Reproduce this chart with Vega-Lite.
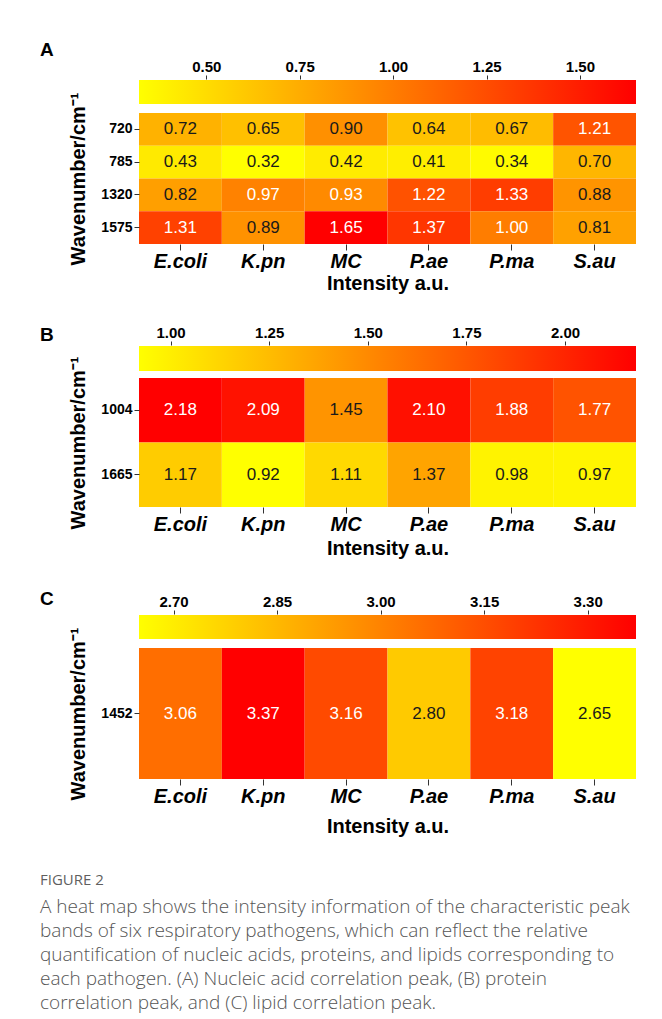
{
  "$schema": "https://vega.github.io/schema/vega-lite/v6.json",
  "background": "white",
  "padding": {"left": 40, "top": 41, "right": 4, "bottom": 0},
  "config": {
    "view": {"stroke": null},
    "font": "Liberation Sans",
    "axis": {"domain": false, "grid": false, "tickColor": "#333333", "labelColor": "#000000", "titleColor": "#000000", "labelFont": "Liberation Sans", "titleFont": "Liberation Sans"}
  },
  "datasets": {
    "A": [
      {"w": 720, "p": "E.coli", "v": 0.72}, {"w": 720, "p": "K.pn", "v": 0.65}, {"w": 720, "p": "MC", "v": 0.90}, {"w": 720, "p": "P.ae", "v": 0.64}, {"w": 720, "p": "P.ma", "v": 0.67}, {"w": 720, "p": "S.au", "v": 1.21},
      {"w": 785, "p": "E.coli", "v": 0.43}, {"w": 785, "p": "K.pn", "v": 0.32}, {"w": 785, "p": "MC", "v": 0.42}, {"w": 785, "p": "P.ae", "v": 0.41}, {"w": 785, "p": "P.ma", "v": 0.34}, {"w": 785, "p": "S.au", "v": 0.70},
      {"w": 1320, "p": "E.coli", "v": 0.82}, {"w": 1320, "p": "K.pn", "v": 0.97}, {"w": 1320, "p": "MC", "v": 0.93}, {"w": 1320, "p": "P.ae", "v": 1.22}, {"w": 1320, "p": "P.ma", "v": 1.33}, {"w": 1320, "p": "S.au", "v": 0.88},
      {"w": 1575, "p": "E.coli", "v": 1.31}, {"w": 1575, "p": "K.pn", "v": 0.89}, {"w": 1575, "p": "MC", "v": 1.65}, {"w": 1575, "p": "P.ae", "v": 1.37}, {"w": 1575, "p": "P.ma", "v": 1.00}, {"w": 1575, "p": "S.au", "v": 0.81}
    ],
    "B": [
      {"w": 1004, "p": "E.coli", "v": 2.18}, {"w": 1004, "p": "K.pn", "v": 2.09}, {"w": 1004, "p": "MC", "v": 1.45}, {"w": 1004, "p": "P.ae", "v": 2.10}, {"w": 1004, "p": "P.ma", "v": 1.88}, {"w": 1004, "p": "S.au", "v": 1.77},
      {"w": 1665, "p": "E.coli", "v": 1.17}, {"w": 1665, "p": "K.pn", "v": 0.92}, {"w": 1665, "p": "MC", "v": 1.11}, {"w": 1665, "p": "P.ae", "v": 1.37}, {"w": 1665, "p": "P.ma", "v": 0.98}, {"w": 1665, "p": "S.au", "v": 0.97}
    ],
    "C": [
      {"w": 1452, "p": "E.coli", "v": 3.06}, {"w": 1452, "p": "K.pn", "v": 3.37}, {"w": 1452, "p": "MC", "v": 3.16}, {"w": 1452, "p": "P.ae", "v": 2.80}, {"w": 1452, "p": "P.ma", "v": 3.18}, {"w": 1452, "p": "S.au", "v": 2.65}
    ]
  },
  "title": {
    "text": "FIGURE 2",
    "subtitle": [
      "A heat map shows the intensity information of the characteristic peak",
      "bands of six respiratory pathogens, which can reflect the relative",
      "quantification of nucleic acids, proteins, and lipids corresponding to",
      "each pathogen. (A) Nucleic acid correlation peak, (B) protein",
      "correlation peak, and (C) lipid correlation peak."
    ],
    "orient": "bottom",
    "anchor": "start",
    "frame": "bounds",
    "offset": 37,
    "font": "Open Sans",
    "fontSize": 15,
    "fontWeight": 500,
    "color": "#5f5f5f",
    "subtitleFont": "Open Sans",
    "subtitleFontSize": 19,
    "subtitleFontWeight": 300,
    "subtitleColor": "#555555",
    "subtitleLineHeight": 24,
    "subtitlePadding": 10
  },
  "spacing": 32,
  "resolve": {"scale": {"x": "independent", "y": "independent", "color": "independent"}},
  "vconcat": [
    {
      "bounds": "flush",
      "spacing": 9,
      "resolve": {"scale": {"x": "independent", "y": "independent", "color": "independent"}},
      "vconcat": [
        {
          "data": {"name": "A"},
          "width": 497,
          "height": 24,
          "title": {"text": "A", "anchor": "start", "frame": "group", "dx": -99, "offset": -1, "fontSize": 19, "fontWeight": "bold", "color": "#000000", "font": "Liberation Sans"},
          "mark": {"type": "rect", "fill": {"gradient": "linear", "stops": [{"offset": 0, "color": "#ffff00"}, {"offset": 1, "color": "#ff0000"}]}},
          "encoding": {
            "x": {"aggregate": "min", "field": "v", "type": "quantitative", "scale": {"zero": false, "nice": false},
                  "axis": {"orient": "top", "values": [0.5, 0.75, 1.0, 1.25, 1.5], "format": ".2f", "title": null, "labelFontSize": 15, "labelFontWeight": "bold", "tickSize": 4, "labelPadding": 1, "offset": 1}},
            "x2": {"aggregate": "max", "field": "v"}
          }
        },
        {
          "data": {"name": "A"},
          "width": 497,
          "height": 131,
          "encoding": {
            "x": {"field": "p", "type": "nominal", "sort": null, "scale": {"paddingInner": 0, "paddingOuter": 0},
                  "axis": {"labelAngle": 0, "labelFontSize": 20, "labelFontWeight": "bold", "labelFontStyle": "italic", "tickSize": 6, "labelPadding": 1, "title": "Intensity a.u.", "titleFontSize": 20, "titleFontWeight": "bold", "titlePadding": 2}},
            "y": {"field": "w", "type": "ordinal", "sort": null, "scale": {"paddingInner": 0, "paddingOuter": 0},
                  "axis": {"title": "Wavenumber/cm⁻¹", "labelFontSize": 14, "labelFontWeight": "bold", "tickSize": 5, "labelPadding": 2, "titleFontSize": 20, "titleFontWeight": "bold", "titlePadding": 12}}
          },
          "layer": [
            {"mark": {"type": "rect"}, "encoding": {"color": {"field": "v", "type": "quantitative", "scale": {"range": ["#ffff00", "#ff0000"], "interpolate": "rgb", "zero": false, "nice": false}, "legend": null}}},
            {"mark": {"type": "text", "fontSize": 17, "font": "Liberation Sans"}, "encoding": {"text": {"field": "v", "type": "quantitative", "format": ".2f"}, "color": {"condition": {"test": "datum.v > 0.915", "value": "#ffffff"}, "value": "#1a1a1a"}}}
          ]
        }
      ]
    },
    {
      "bounds": "flush",
      "spacing": 7,
      "resolve": {"scale": {"x": "independent", "y": "independent", "color": "independent"}},
      "vconcat": [
        {
          "data": {"name": "B"},
          "width": 497,
          "height": 25,
          "title": {"text": "B", "anchor": "start", "frame": "group", "dx": -99, "offset": -2, "dy": 18, "fontSize": 19, "fontWeight": "bold", "color": "#000000", "font": "Liberation Sans"},
          "mark": {"type": "rect", "fill": {"gradient": "linear", "stops": [{"offset": 0, "color": "#ffff00"}, {"offset": 1, "color": "#ff0000"}]}},
          "encoding": {
            "x": {"aggregate": "min", "field": "v", "type": "quantitative", "scale": {"zero": false, "nice": false},
                  "axis": {"orient": "top", "values": [1.0, 1.25, 1.5, 1.75, 2.0], "format": ".2f", "title": null, "labelFontSize": 15, "labelFontWeight": "bold", "tickSize": 4, "labelPadding": 1, "offset": 1}},
            "x2": {"aggregate": "max", "field": "v"}
          }
        },
        {
          "data": {"name": "B"},
          "width": 497,
          "height": 129,
          "encoding": {
            "x": {"field": "p", "type": "nominal", "sort": null, "scale": {"paddingInner": 0, "paddingOuter": 0},
                  "axis": {"labelAngle": 0, "labelFontSize": 20, "labelFontWeight": "bold", "labelFontStyle": "italic", "tickSize": 6, "labelPadding": 1, "title": "Intensity a.u.", "titleFontSize": 20, "titleFontWeight": "bold", "titlePadding": 4}},
            "y": {"field": "w", "type": "ordinal", "sort": null, "scale": {"paddingInner": 0, "paddingOuter": 0},
                  "axis": {"title": "Wavenumber/cm⁻¹", "labelFontSize": 14, "labelFontWeight": "bold", "tickSize": 5, "labelPadding": 2, "titleFontSize": 20, "titleFontWeight": "bold", "titlePadding": 12}}
          },
          "layer": [
            {"mark": {"type": "rect"}, "encoding": {"color": {"field": "v", "type": "quantitative", "scale": {"range": ["#ffff00", "#ff0000"], "interpolate": "rgb", "zero": false, "nice": false}, "legend": null}}},
            {"mark": {"type": "text", "fontSize": 17, "font": "Liberation Sans"}, "encoding": {"text": {"field": "v", "type": "quantitative", "format": ".2f"}, "color": {"condition": {"test": "datum.v > 1.6", "value": "#ffffff"}, "value": "#1a1a1a"}}}
          ]
        }
      ]
    },
    {
      "bounds": "flush",
      "spacing": 9,
      "resolve": {"scale": {"x": "independent", "y": "independent", "color": "independent"}},
      "vconcat": [
        {
          "data": {"name": "C"},
          "width": 497,
          "height": 24,
          "title": {"text": "C", "anchor": "start", "frame": "group", "dx": -99, "offset": -2, "dy": 13, "fontSize": 19, "fontWeight": "bold", "color": "#000000", "font": "Liberation Sans"},
          "mark": {"type": "rect", "fill": {"gradient": "linear", "stops": [{"offset": 0, "color": "#ffff00"}, {"offset": 1, "color": "#ff0000"}]}},
          "encoding": {
            "x": {"aggregate": "min", "field": "v", "type": "quantitative", "scale": {"zero": false, "nice": false},
                  "axis": {"orient": "top", "values": [2.7, 2.85, 3.0, 3.15, 3.3], "format": ".2f", "title": null, "labelFontSize": 15, "labelFontWeight": "bold", "tickSize": 4, "labelPadding": 1, "offset": 1}},
            "x2": {"aggregate": "max", "field": "v"}
          }
        },
        {
          "data": {"name": "C"},
          "width": 497,
          "height": 131,
          "encoding": {
            "x": {"field": "p", "type": "nominal", "sort": null, "scale": {"paddingInner": 0, "paddingOuter": 0},
                  "axis": {"labelAngle": 0, "labelFontSize": 20, "labelFontWeight": "bold", "labelFontStyle": "italic", "tickSize": 6, "labelPadding": 1, "title": "Intensity a.u.", "titleFontSize": 20, "titleFontWeight": "bold", "titlePadding": 10}},
            "y": {"field": "w", "type": "ordinal", "sort": null, "scale": {"paddingInner": 0, "paddingOuter": 0},
                  "axis": {"title": "Wavenumber/cm⁻¹", "labelFontSize": 14, "labelFontWeight": "bold", "tickSize": 5, "labelPadding": 2, "titleFontSize": 20, "titleFontWeight": "bold", "titlePadding": 12}}
          },
          "layer": [
            {"mark": {"type": "rect"}, "encoding": {"color": {"field": "v", "type": "quantitative", "scale": {"range": ["#ffff00", "#ff0000"], "interpolate": "rgb", "zero": false, "nice": false}, "legend": null}}},
            {"mark": {"type": "text", "fontSize": 17, "font": "Liberation Sans"}, "encoding": {"text": {"field": "v", "type": "quantitative", "format": ".2f"}, "color": {"condition": {"test": "datum.v > 2.9", "value": "#ffffff"}, "value": "#1a1a1a"}}}
          ]
        }
      ]
    }
  ]
}
